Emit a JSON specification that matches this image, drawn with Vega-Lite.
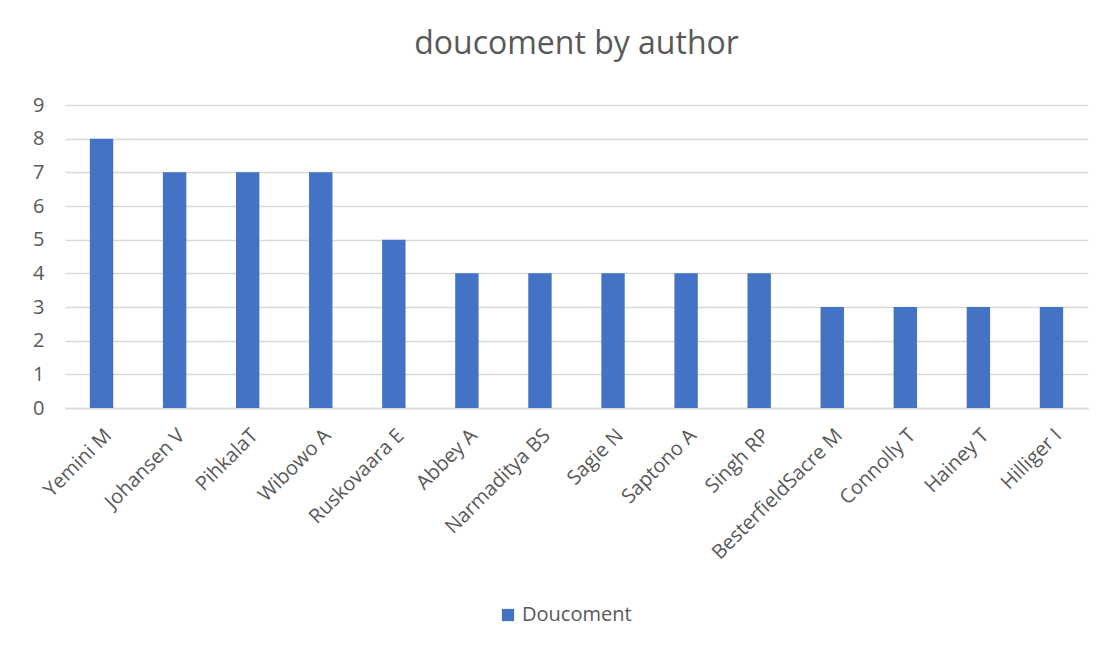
{
  "$schema": "https://vega.github.io/schema/vega-lite/v6.json",
  "width": 1023,
  "height": 303,
  "autosize": {"type": "none"},
  "padding": {"left": 65, "top": 105, "right": 20, "bottom": 243},
  "background": "white",
  "title": {
    "text": "doucoment by author",
    "fontSize": 32,
    "font": "Open Sans",
    "fontWeight": "normal",
    "color": "#595959",
    "offset": 34,
    "anchor": "middle"
  },
  "data": {
    "values": [
      {"author": "Yemini M", "count": 8, "series": "Doucoment"},
      {"author": "Johansen V", "count": 7, "series": "Doucoment"},
      {"author": "PihkalaT", "count": 7, "series": "Doucoment"},
      {"author": "Wibowo A", "count": 7, "series": "Doucoment"},
      {"author": "Ruskovaara E", "count": 5, "series": "Doucoment"},
      {"author": "Abbey A", "count": 4, "series": "Doucoment"},
      {"author": "Narmaditya BS", "count": 4, "series": "Doucoment"},
      {"author": "Sagie N", "count": 4, "series": "Doucoment"},
      {"author": "Saptono A", "count": 4, "series": "Doucoment"},
      {"author": "Singh RP", "count": 4, "series": "Doucoment"},
      {"author": "BesterfieldSacre M", "count": 3, "series": "Doucoment"},
      {"author": "Connolly T", "count": 3, "series": "Doucoment"},
      {"author": "Hainey T", "count": 3, "series": "Doucoment"},
      {"author": "Hilliger I", "count": 3, "series": "Doucoment"}
    ]
  },
  "mark": {"type": "bar"},
  "encoding": {
    "x": {
      "field": "author",
      "type": "nominal",
      "sort": null,
      "title": null,
      "scale": {"paddingInner": 0.68, "paddingOuter": 0.34},
      "axis": {
        "labelAngle": -45,
        "labelFontSize": 20,
        "labelFont": "Open Sans",
        "labelColor": "#595959",
        "ticks": false,
        "domainColor": "#d9d9d9",
        "domainWidth": 1.5,
        "labelPadding": 17
      }
    },
    "y": {
      "field": "count",
      "type": "quantitative",
      "title": null,
      "scale": {"domain": [0, 9]},
      "axis": {
        "values": [0, 1, 2, 3, 4, 5, 6, 7, 8, 9],
        "labelFontSize": 20,
        "labelFont": "Open Sans",
        "labelColor": "#595959",
        "ticks": false,
        "domain": false,
        "gridColor": "#d9d9d9",
        "gridWidth": 1.5,
        "labelPadding": 21
      }
    },
    "color": {
      "field": "series",
      "type": "nominal",
      "scale": {"range": ["#4472C4"]},
      "legend": {
        "title": null,
        "orient": "none",
        "legendX": 433,
        "legendY": 500,
        "symbolType": "square",
        "symbolSize": 150,
        "labelFontSize": 20,
        "labelFont": "Open Sans",
        "labelColor": "#595959"
      }
    }
  },
  "config": {
    "view": {"stroke": null}
  }
}
